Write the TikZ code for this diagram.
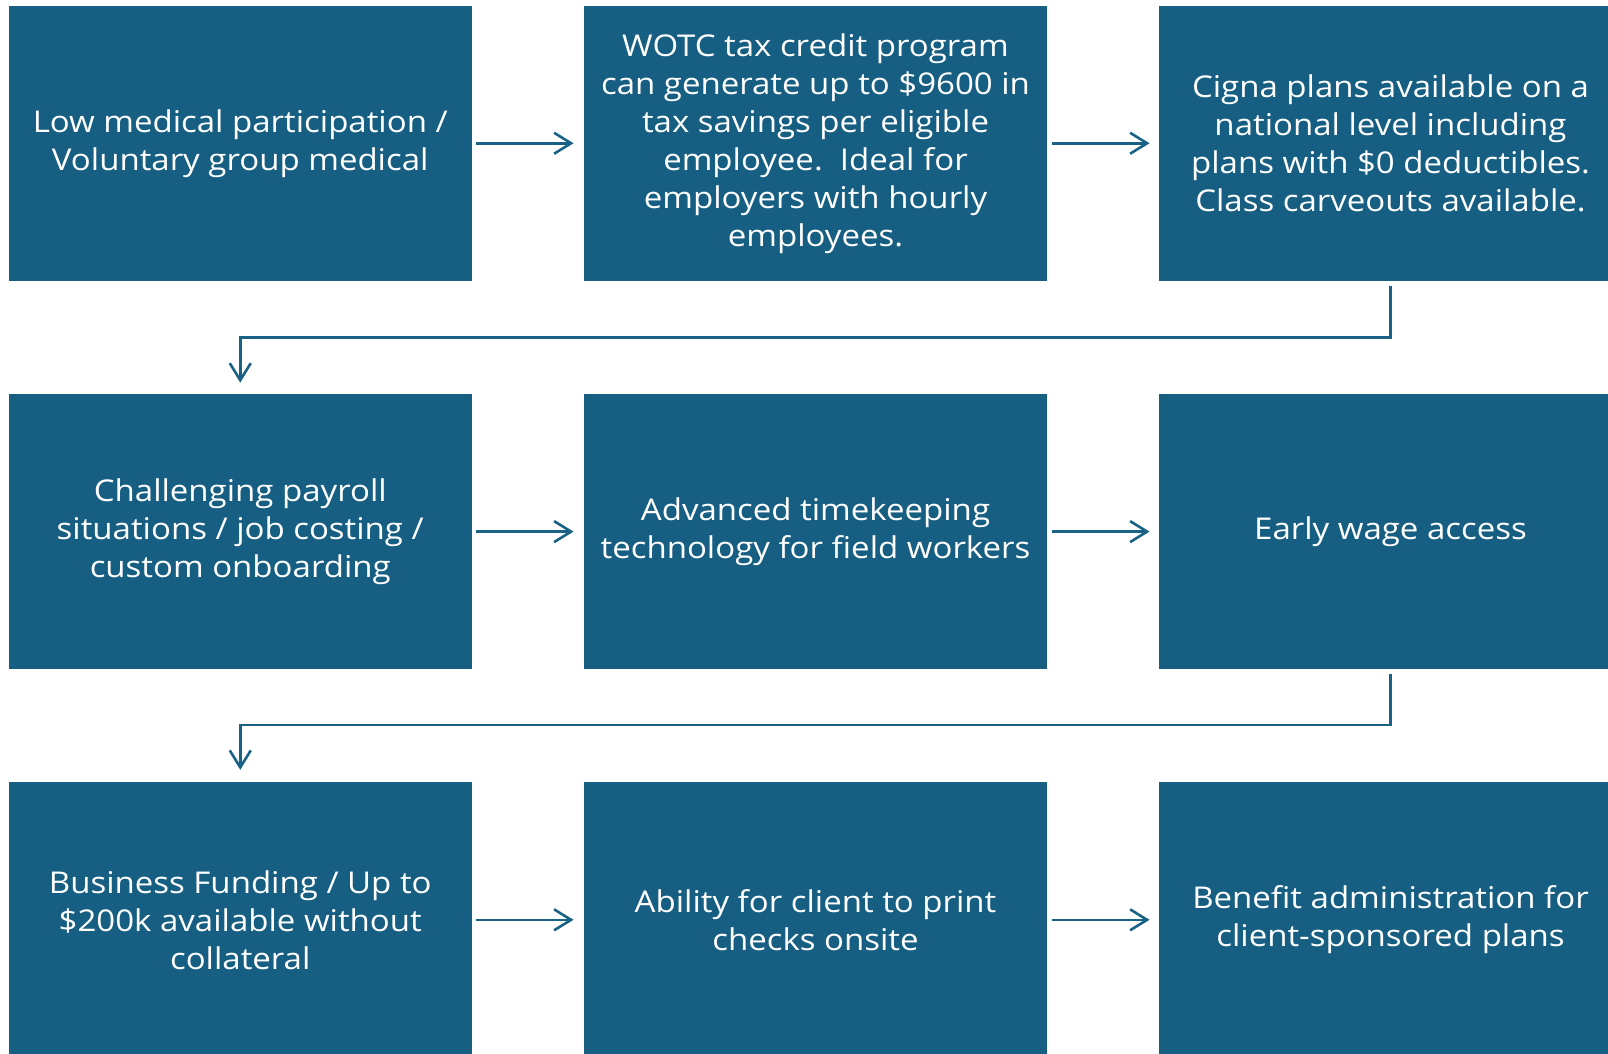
\documentclass[tikz,border=0pt]{standalone}
\usepackage{fontspec}
\setmainfont[FakeStretch=1.1]{Open Sans}
\usetikzlibrary{arrows.meta}
\definecolor{boxblue}{RGB}{23,95,130}
\definecolor{linkblue}{RGB}{26,98,133}
\tikzset{
  stepbox/.style={rectangle, fill=boxblue, draw=none, minimum width=463.5pt,
    minimum height=275.5pt, inner sep=0pt, text=white, align=center,
    font=\fontsize{30}{38}\selectfont},
  link/.style={draw=linkblue, line width=2.6pt,
    -{Straight Barb[length=17pt,width=21pt,line width=2.6pt]}}
}
\begin{document}
\begin{tikzpicture}[x=1pt,y=1pt]
  \useasboundingbox (0,0) rectangle (1608,-1053);
  \begin{scope}
  \clip (0,0) rectangle (1608,-1053);
  % first row
  \node[stepbox] (b1) at (240.25,-143.25) {Low medical participation /\\Voluntary group medical};
  \node[stepbox] (b2) at (815.5,-143.25) {WOTC tax credit program\\can generate up to \$9600 in\\tax savings per eligible\\employee.\ \ Ideal for\\employers with hourly\\employees.};
  \node[stepbox] (b3) at (1390.5,-143.25) {Cigna plans available on a\\national level including\\plans with \$0 deductibles.\\Class carveouts available.};
  % second row
  \node[stepbox] (b4) at (240.25,-531.6) {Challenging payroll\\situations / job costing /\\custom onboarding};
  \node[stepbox] (b5) at (815.5,-531.6) {Advanced timekeeping\\technology for field workers};
  \node[stepbox] (b6) at (1390.5,-531.6) {Early wage access};
  % third row
  \node[stepbox] (b7) at (240.25,-919.8) {Business Funding / Up to\\\$200k available without\\collateral};
  \node[stepbox] (b8) at (815.5,-919.8) {Ability for client to print\\checks onsite};
  \node[stepbox] (b9) at (1390.5,-919.8) {Benefit administration for\\client-sponsored plans};
  \end{scope}
  % arrows within rows
  \draw[link] ([xshift=4pt]b1.east) -- ([xshift=-10pt]b2.west);
  \draw[link] ([xshift=5pt]b2.east) -- ([xshift=-9pt]b3.west);
  \draw[link] ([xshift=4pt]b4.east) -- ([xshift=-10pt]b5.west);
  \draw[link] ([xshift=5pt]b5.east) -- ([xshift=-9pt]b6.west);
  \draw[link] ([xshift=4pt]b7.east) -- ([xshift=-10pt]b8.west);
  \draw[link] ([xshift=5pt]b8.east) -- ([xshift=-9pt]b9.west);
  % row-to-row connectors
  \draw[link] ([yshift=-5pt]b3.south) -- ++(0,-51.5pt) -| ([yshift=11pt]b4.north);
  \draw[link] ([yshift=-4pt]b6.south) -- ++(0,-51.5pt) -| ([yshift=12pt]b7.north);
\end{tikzpicture}
\end{document}
